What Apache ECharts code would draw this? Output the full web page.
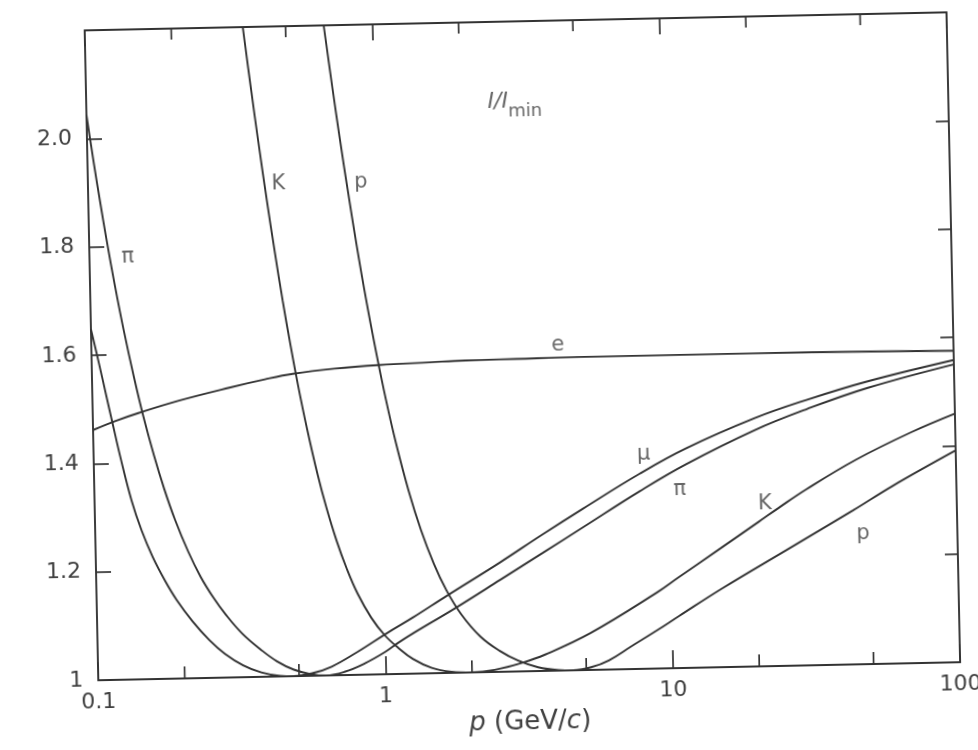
<!DOCTYPE html>
<html><head><meta charset="utf-8">
<script src="https://cdn.jsdelivr.net/npm/echarts@6/dist/echarts.min.js"></script>
<style>
html,body{margin:0;padding:0;background:#fff;overflow:hidden}
#c{width:978px;height:750px;transform:rotate(-1.2deg);transform-origin:489px 375px;background:#fff}
</style></head><body><div id="c"></div>
<script>
// ---- data: [p (GeV/c), I/Imin] ----
const curveE = [[0.1,1.462],[0.12,1.478],[0.145,1.492],[0.2,1.513],[0.3,1.535],[0.4,1.549],[0.5,1.558],[0.7,1.566],[1,1.571],[1.5,1.574],[2,1.576],[3,1.577],[5,1.578],[10,1.578],[20,1.578],[50,1.577],[100,1.575]];
const curveMu = [[0.1,1.648],[0.106,1.585],[0.112,1.523],[0.117,1.474],[0.124,1.41],[0.1346,1.33],[0.145,1.275],[0.158,1.225],[0.174,1.18],[0.19,1.145],[0.215,1.105],[0.245,1.07],[0.277,1.044],[0.32,1.022],[0.37,1.008],[0.43,1.001],[0.48,1.0],[0.56,1.005],[0.65,1.016],[0.8,1.042],[1.02,1.076],[1.26,1.104],[1.65,1.142],[2.55,1.202],[3.6,1.252],[5,1.298],[7.9,1.36],[11.5,1.405],[20,1.458],[30.5,1.49],[50,1.522],[100,1.558]];
const curvePi = [[0.1,2.044],[0.105,1.958],[0.11,1.882],[0.115,1.813],[0.122,1.728],[0.13,1.645],[0.14,1.558],[0.15,1.485],[0.162,1.414],[0.175,1.351],[0.19,1.293],[0.21,1.234],[0.231,1.187],[0.255,1.148],[0.28,1.117],[0.32,1.08],[0.37,1.05],[0.42,1.028],[0.48,1.012],[0.55,1.003],[0.62,1.0],[0.72,1.006],[0.85,1.021],[1.0,1.041],[1.108,1.057],[1.26,1.075],[1.75,1.118],[2.55,1.17],[3.6,1.218],[5,1.264],[7.9,1.328],[11.5,1.376],[20,1.436],[30.5,1.473],[50,1.51],[100,1.55]];
const curveK = [[0.355,2.2],[0.375,2.087],[0.394,1.99],[0.418,1.88],[0.442,1.783],[0.467,1.693],[0.492,1.615],[0.52,1.538],[0.555,1.457],[0.6,1.371],[0.64,1.31],[0.69,1.249],[0.745,1.197],[0.81,1.15],[0.9,1.105],[1.0,1.072],[1.108,1.049],[1.25,1.027],[1.45,1.01],[1.7,1.002],[2.0,1.0],[2.4,1.004],[3.0,1.016],[3.6,1.03],[5.2,1.068],[8.9,1.14],[10.6,1.167],[15,1.22],[20.4,1.267],[24,1.292],[30,1.325],[45,1.378],[70,1.426],[100,1.459]];
const curveP = [[0.679,2.2],[0.72,2.086],[0.76,1.986],[0.8,1.897],[0.85,1.797],[0.91,1.694],[0.98,1.593],[1.05,1.507],[1.13,1.426],[1.24,1.338],[1.36,1.265],[1.5,1.202],[1.65,1.153],[1.85,1.108],[2.15,1.066],[2.5,1.039],[2.9,1.02],[3.4,1.007],[4.0,1.001],[4.5,1.0],[5.2,1.005],[6.0,1.017],[7.2,1.042],[8.9,1.071],[10.6,1.096],[15,1.145],[25.4,1.214],[43.4,1.284],[60,1.328],[100,1.391]];

const curveLabels = [[0.46,1.91,'K'],[0.89,1.91,'p'],[0.136,1.78,'π'],[4.2,1.60,'e'],[8.2,1.395,'μ'],[10.9,1.33,'π'],[21.5,1.30,'K'],[47,1.24,'p']];
const ratioLabelPos = [3.1,2.05];

const xTickLabels = ['0.1','1','10','100'];
const yTickLabels = ['1','1.2','1.4','1.6','1.8','2.0',''];
const minorTickValues = [0.2,0.5,2,5,20,50];
const xMin = 0.1, xMax = 100, yMin = 1, yMax = 2.2, yStep = 0.2;

// ---- style ----
const ink = '#333';
const textInk = '#404040';
const font = 'DejaVu Sans';

const chart = echarts.init(document.getElementById('c'), null, {renderer:'canvas'});

function lineSeries(name, data){
  return {name, type:'line', data, showSymbol:false, symbol:'none', smooth:0.4,
    lineStyle:{color:ink, width:1.9}, silent:true, z:3};
}

const option = {
  backgroundColor:'#fff',
  animation:false,
  grid:{left:92, right:12, top:22, bottom:78, containLabel:false},
  xAxis:[
    {type:'log', logBase:10, min:xMin, max:xMax, position:'bottom',
     axisLine:{show:true, lineStyle:{color:ink, width:1.9}},
     axisTick:{show:true, inside:true, length:18, lineStyle:{color:ink, width:1.7}},
     axisLabel:{show:true, margin:11, color:textInk, fontFamily:font, fontSize:22,
       formatter:v=>xTickLabels[Math.round(Math.log10(v))+1]},
     splitLine:{show:false}, minorTick:{show:false},
     name:'{i|p} (GeV/{i|c})', nameLocation:'middle', nameGap:38,
     nameTextStyle:{color:textInk, fontFamily:font, fontSize:26,
       rich:{i:{fontStyle:'italic', fontFamily:font, fontSize:26, color:textInk}}}
    },
    {type:'log', logBase:10, min:xMin, max:xMax, position:'top',
     axisLine:{show:true, lineStyle:{color:ink, width:1.9}},
     axisTick:{show:true, inside:true, length:16, lineStyle:{color:ink, width:1.7}},
     axisLabel:{show:false}, splitLine:{show:false}}
  ],
  yAxis:[
    {type:'value', min:yMin, max:yMax, interval:yStep, position:'left',
     axisLine:{show:true, lineStyle:{color:ink, width:1.9}},
     axisTick:{show:true, inside:true, length:15, lineStyle:{color:ink, width:1.7}},
     axisLabel:{show:true, margin:15, color:textInk, fontFamily:font, fontSize:22,
       formatter:v=>yTickLabels[Math.round((v-yMin)/yStep)]},
     splitLine:{show:false}},
    {type:'value', min:yMin, max:yMax, interval:yStep, position:'right',
     axisLine:{show:true, lineStyle:{color:ink, width:1.9}},
     axisTick:{show:true, inside:true, length:13, lineStyle:{color:ink, width:1.7}},
     axisLabel:{show:false}, splitLine:{show:false}}
  ],
  series:[
    lineSeries('e', curveE),
    lineSeries('μ', curveMu),
    lineSeries('π', curvePi),
    lineSeries('K', curveK),
    lineSeries('p', curveP),
    {type:'custom', name:'minorTicks', silent:true, clip:false, z:4,
     data:minorTickValues.map(v=>[v, yMin]),
     renderItem:function(params, api){
       const v = api.value(0);
       const b = api.coord([v, yMin]);
       const t = api.coord([v, yMax]);
       return {type:'group', children:[
         {type:'line', shape:{x1:b[0], y1:b[1], x2:b[0], y2:b[1]-12}, style:{stroke:ink, lineWidth:1.7}},
         {type:'line', shape:{x1:t[0], y1:t[1], x2:t[0], y2:t[1]+11}, style:{stroke:ink, lineWidth:1.7}}
       ]};
     }},
    {type:'scatter', name:'labels', silent:true, symbolSize:1, itemStyle:{color:'rgba(0,0,0,0)'}, z:5,
     data:curveLabels.map(d=>({value:[d[0], d[1]], name:d[2]})).concat([
       {value:ratioLabelPos, name:'ratio',
        label:{formatter:'{i|I/I}{s|min}',
          rich:{i:{fontStyle:'italic', fontFamily:font, fontSize:22, color:textInk, lineHeight:24, verticalAlign:'top'},
                s:{fontFamily:font, fontSize:18, color:textInk, lineHeight:20, padding:[12,0,0,0], verticalAlign:'top'}}}}
     ]),
     label:{show:true, position:'inside', color:textInk, fontFamily:font, fontSize:21,
       formatter:p=>p.name}}
  ]
};
chart.setOption(option);
</script></body></html>
